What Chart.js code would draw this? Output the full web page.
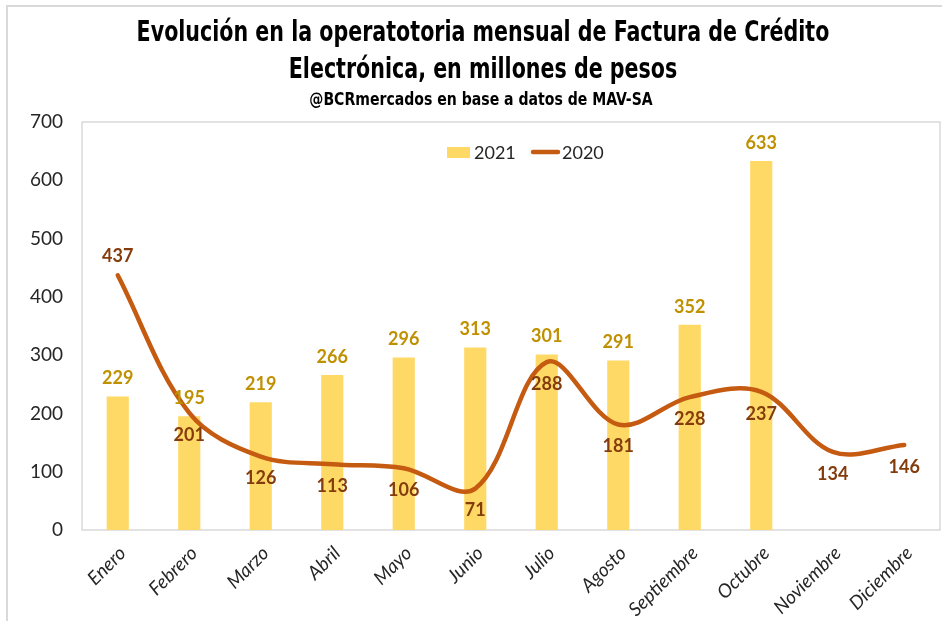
<!DOCTYPE html>
<html>
<head>
<meta charset="utf-8">
<script src="https://cdn.jsdelivr.net/npm/chart.js@4"></script>
<style>
  html, body { margin: 0; padding: 0; background: #fff; }
  body { width: 942px; height: 621px; position: relative; overflow: hidden; }
  #frame { position: absolute; left: 6px; top: 5px; width: 1000px; height: 700px; border: 2px solid #d9d9d9; box-sizing: border-box; }
  #wrap { position: absolute; left: 0; top: 0; width: 942px; height: 621px; }
</style>
</head>
<body>
<div id="frame"></div>
<div id="wrap"><canvas id="chart"></canvas></div>
<script>
const meses = ["Enero", "Febrero", "Marzo", "Abril", "Mayo", "Junio", "Julio",
  "Agosto", "Septiembre", "Octubre", "Noviembre", "Diciembre"];
const valores2021 = [229, 195, 219, 266, 296, 313, 301, 291, 352, 633, null, null];
const valores2020 = [437, 201, 126, 113, 106, 71, 288, 181, 228, 237, 134, 146];
const ticksY = [0, 100, 200, 300, 400, 500, 600, 700];

const titulo = ["Evolución en la operatotoria mensual de Factura de Crédito", "Electrónica, en millones de pesos"];
const subtitulo = "@BCRmercados en base a datos de MAV-SA";

const amarillo = "#ffd966";
const naranja = "#c55a11";
const textoOscuro = "#262626";
const fuenteTexto = "Lato, 'Noto Sans', sans-serif";
const fuenteTitulo = "'DejaVu Sans Condensed', 'DejaVu Sans', sans-serif";

// title drawn narrower than the installed fonts allow
const encabezado = {
  id: "encabezado",
  afterDraw(chart) {
    const ctx = chart.ctx;
    ctx.save();
    ctx.fillStyle = "#000";
    ctx.textAlign = "center";
    ctx.textBaseline = "middle";
    ctx.font = "bold 29px " + fuenteTitulo;
    titulo.forEach((t, i) => {
      ctx.save();
      ctx.translate(483, 33 + i * 37);
      ctx.scale(0.79, 1);
      ctx.fillText(t, 0, 0);
      ctx.restore();
    });
    ctx.font = "bold 17px " + fuenteTitulo;
    ctx.translate(481, 101);
    ctx.scale(0.92, 1);
    ctx.fillText(subtitulo, 0, 0);
    ctx.restore();
  }
};

// labels + plot border + legend inside the plot
const extras = {
  id: "extras",
  beforeDatasetsDraw(chart) {
    const { ctx, chartArea: a } = chart;
    ctx.save();
    ctx.strokeStyle = "#d9d9d9";
    ctx.lineWidth = 1.5;
    ctx.strokeRect(a.left, a.top, a.right - a.left, a.bottom - a.top);
    ctx.restore();
  },
  afterDatasetsDraw(chart) {
    const ctx = chart.ctx;
    ctx.save();
    ctx.font = "bold 18px " + fuenteTexto;
    ctx.textAlign = "center";
    ctx.textBaseline = "middle";

    const barras = chart.getDatasetMeta(0).data;
    barras.forEach((b, i) => {
      if (valores2021[i] == null) return;
      ctx.fillStyle = "#bf9000";
      ctx.fillText(valores2021[i], b.x, b.y - 18);
    });

    const puntos = chart.getDatasetMeta(1).data;
    puntos.forEach((p, i) => {
      ctx.fillStyle = "#843c0c";
      const dy = i === 0 ? -19 : 22;
      ctx.fillText(valores2020[i], p.x, p.y + dy);
    });

    // leyenda
    ctx.font = "18px " + fuenteTexto;
    ctx.textAlign = "left";
    ctx.fillStyle = amarillo;
    ctx.fillRect(447, 147, 23, 11);
    ctx.fillStyle = textoOscuro;
    ctx.fillText("2021", 474, 153);
    ctx.strokeStyle = naranja;
    ctx.lineWidth = 4.5;
    ctx.lineCap = "round";
    ctx.beginPath();
    ctx.moveTo(533, 152);
    ctx.lineTo(558, 152);
    ctx.stroke();
    ctx.fillText("2020", 562, 153);
    ctx.restore();
  }
};

new Chart(document.getElementById("chart"), {
  data: {
    labels: meses,
    datasets: [
      {
        type: "bar",
        label: "2021",
        data: valores2021,
        backgroundColor: amarillo,
        barPercentage: 0.31,
        categoryPercentage: 1,
        order: 2
      },
      {
        type: "line",
        label: "2020",
        data: valores2020,
        borderColor: naranja,
        borderWidth: 4.5,
        borderCapStyle: "round",
        pointRadius: 0,
        tension: 0.35,
        order: 1
      }
    ]
  },
  options: {
    responsive: true,
    maintainAspectRatio: false,
    animation: false,
    layout: { padding: { top: 122, right: 2, bottom: 0, left: 0 } },
    plugins: {
      legend: { display: false },
      tooltip: { enabled: false },
      title: { display: false }
    },
    scales: {
      x: {
        grid: { display: false, drawTicks: false },
        border: { display: false },
        ticks: {
          color: textoOscuro,
          font: { family: fuenteTexto, size: 19, style: "italic" },
          minRotation: 45,
          maxRotation: 45,
          padding: 12,
          labelOffset: 5
        },
        afterFit(scale) { scale.height = 91; }
      },
      y: {
        min: 0,
        max: 700,
        grid: { display: false, drawTicks: false },
        border: { display: false },
        afterBuildTicks(scale) { scale.ticks = ticksY.map(v => ({ value: v })); },
        ticks: {
          color: textoOscuro,
          font: { family: fuenteTexto, size: 19 },
          padding: 19
        },
        afterFit(scale) { scale.width = 82; }
      }
    }
  },
  plugins: [extras, encabezado]
});
</script>
</body>
</html>
